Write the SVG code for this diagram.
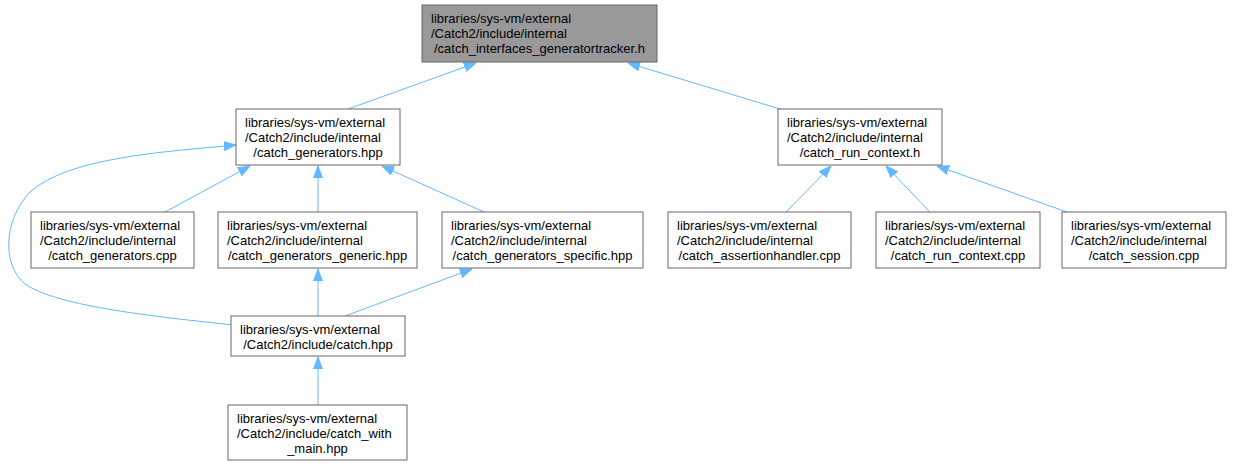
<svg xmlns="http://www.w3.org/2000/svg" width="1233" height="466" viewBox="0 0 1233 466">
<style>
.n rect{fill:#ffffff;stroke:#666666;stroke-width:1}
.top rect{fill:#999999}
text{font-family:"Liberation Sans",Arial,sans-serif;font-size:13px;fill:#000000}
.c{text-anchor:middle}
.e path{fill:none;stroke:#63b8ff;stroke-width:1}
</style>
<defs>
<marker id="ah" markerUnits="userSpaceOnUse" markerWidth="12" markerHeight="10" refX="12" refY="5" orient="auto">
<path d="M0,0.5 L12,5 L0,9.5 z" fill="#63b8ff" stroke="#63b8ff" stroke-width="1"/>
</marker>
</defs>
<rect width="1233" height="466" fill="#ffffff"/>
<g class="e" id="connectors">
<path d="M348,109 L476,63" marker-end="url(#ah)"/>
<path d="M780,109 L628,63" marker-end="url(#ah)"/>
<path d="M165,212 L250,166" marker-end="url(#ah)"/>
<path d="M318,212 L318,166" marker-end="url(#ah)"/>
<path d="M484,212 L382,166" marker-end="url(#ah)"/>
<path d="M233,325 C160,317 58,307 25,284 C3,266 2,222 30,192 C68,158 160,152 236,145" marker-end="url(#ah)"/>
<path d="M318,316 L318,269" marker-end="url(#ah)"/>
<path d="M345,316 L472,269" marker-end="url(#ah)"/>
<path d="M318,405 L318,357" marker-end="url(#ah)"/>
<path d="M786,212 L831,166" marker-end="url(#ah)"/>
<path d="M930,212 L886,166" marker-end="url(#ah)"/>
<path d="M1067,212 L937,166" marker-end="url(#ah)"/>
</g>
<g class="n top" id="node_tracker">
<rect x="422" y="5" width="235" height="57"/>
<text x="431" y="23">libraries/sys-vm/external</text>
<text x="431" y="38">/Catch2/include/internal</text>
<text x="539.5" y="53" class="c">/catch_interfaces_generatortracker.h</text>
</g>
<g class="n" id="node_generators_hpp">
<rect x="236" y="109" width="164" height="56"/>
<text x="245" y="127">libraries/sys-vm/external</text>
<text x="245" y="142">/Catch2/include/internal</text>
<text x="318" y="157" class="c">/catch_generators.hpp</text>
</g>
<g class="n" id="node_run_context_h">
<rect x="778" y="109" width="164" height="56"/>
<text x="787" y="127">libraries/sys-vm/external</text>
<text x="787" y="142">/Catch2/include/internal</text>
<text x="860" y="157" class="c">/catch_run_context.h</text>
</g>
<g class="n" id="node_generators_cpp">
<rect x="31" y="212" width="163" height="56"/>
<text x="40" y="230">libraries/sys-vm/external</text>
<text x="40" y="245">/Catch2/include/internal</text>
<text x="112.5" y="260" class="c">/catch_generators.cpp</text>
</g>
<g class="n" id="node_generic">
<rect x="218" y="212" width="199" height="56"/>
<text x="227" y="230">libraries/sys-vm/external</text>
<text x="227" y="245">/Catch2/include/internal</text>
<text x="317.5" y="260" class="c">/catch_generators_generic.hpp</text>
</g>
<g class="n" id="node_specific">
<rect x="442" y="212" width="201" height="56"/>
<text x="451" y="230">libraries/sys-vm/external</text>
<text x="451" y="245">/Catch2/include/internal</text>
<text x="542.5" y="260" class="c">/catch_generators_specific.hpp</text>
</g>
<g class="n" id="node_assertionhandler">
<rect x="668" y="212" width="183" height="56"/>
<text x="677" y="230">libraries/sys-vm/external</text>
<text x="677" y="245">/Catch2/include/internal</text>
<text x="759.5" y="260" class="c">/catch_assertionhandler.cpp</text>
</g>
<g class="n" id="node_run_context_cpp">
<rect x="876" y="212" width="164" height="56"/>
<text x="885" y="230">libraries/sys-vm/external</text>
<text x="885" y="245">/Catch2/include/internal</text>
<text x="958" y="260" class="c">/catch_run_context.cpp</text>
</g>
<g class="n" id="node_session">
<rect x="1062" y="212" width="164" height="56"/>
<text x="1071" y="230">libraries/sys-vm/external</text>
<text x="1071" y="245">/Catch2/include/internal</text>
<text x="1144" y="260" class="c">/catch_session.cpp</text>
</g>
<g class="n" id="node_catch_hpp">
<rect x="231" y="316" width="174" height="40"/>
<text x="240" y="334">libraries/sys-vm/external</text>
<text x="318" y="349" class="c">/Catch2/include/catch.hpp</text>
</g>
<g class="n" id="node_catch_with_main">
<rect x="228" y="405" width="179" height="55"/>
<text x="237" y="423">libraries/sys-vm/external</text>
<text x="237" y="438">/Catch2/include/catch_with</text>
<text x="317.5" y="453" class="c">_main.hpp</text>
</g>
</svg>
